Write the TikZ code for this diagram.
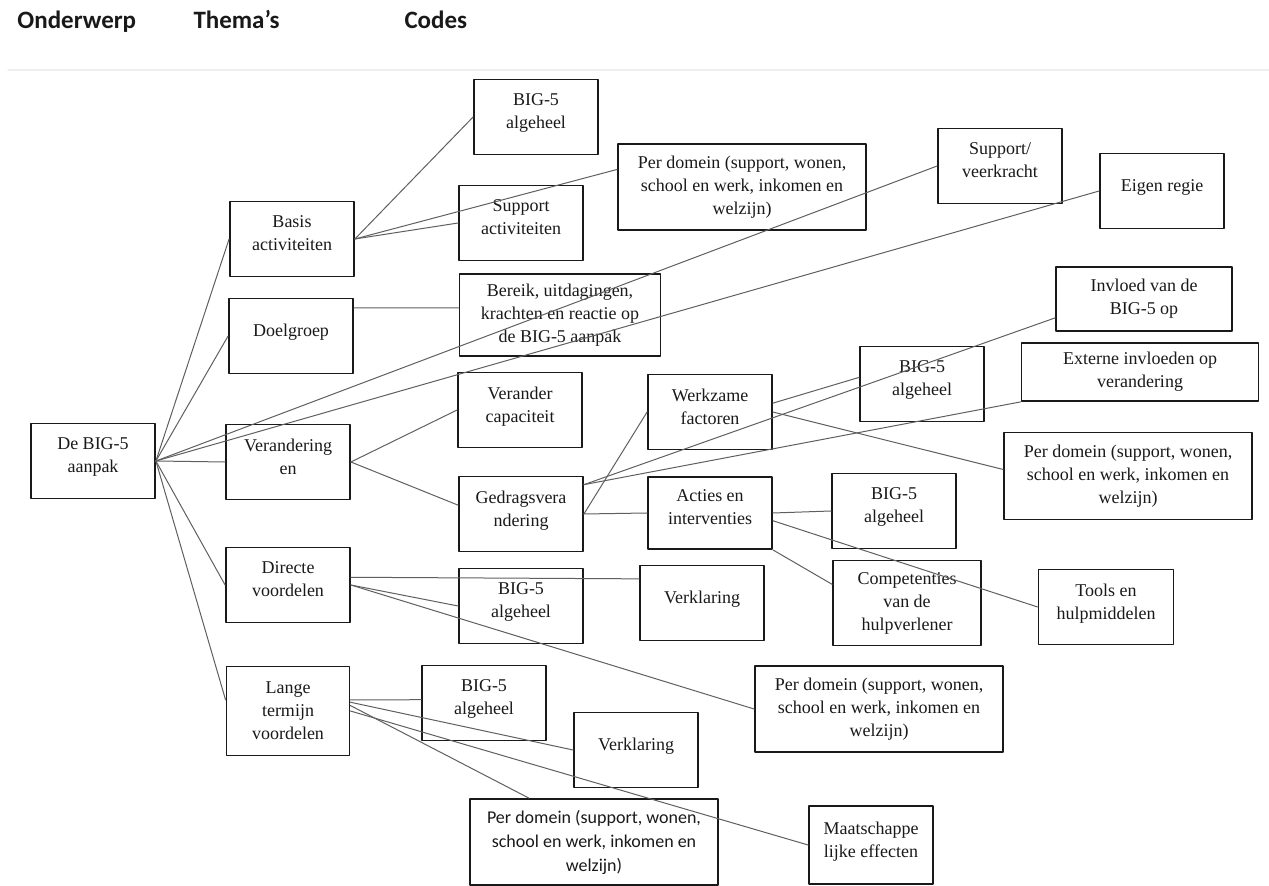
\documentclass[tikz,border=0pt]{standalone}
\usepackage{fontspec}
\setmainfont{Liberation Serif}
\newfontfamily\calibri{Carlito}
\usetikzlibrary{positioning}
\definecolor{fg}{RGB}{25,25,25}
\definecolor{mu}{RGB}{95,95,95}
\definecolor{rule}{RGB}{238,238,238}
\tikzset{
  every picture/.style={fg, line width=0.5pt, line cap=round, line join=round},
  every node/.style={font=\fontsize{9}{11.5}\selectfont},
  % Kopfzeile
  head/.style={anchor=base west, inner sep=0pt, font=\calibri\bfseries\fontsize{12.5}{15}\selectfont},
  % Kästen
  box/.style={draw=fg, line width=0.9pt, align=center, inner sep=1pt,
    minimum width=62pt, minimum height=37.5pt},
  wide/.style={minimum width=124pt, minimum height=43pt},
  % Text etwas nach oben
  lift/.style={text depth=#1},
  lift/.default=5.5pt,
  % Verbindungslinien
  link/.style={mu, line width=0.5pt},
}
\begin{document}
\begin{tikzpicture}[x=0.5pt, y=-0.5pt]
  \useasboundingbox (0,0) rectangle (1269,886);
  % Überschriften
  \node[head] (hOnd) at (17,29) {Onderwerp};
  \node[head] (hThe) at (193,29) {Thema’s};
  \node[head] (hCod) at (404,29) {Codes};
  \draw[rule, line width=0.6pt] (8,70) -- (1269,70);

  % Onderwerp
  \node[box, lift] (root) at (93,461) {De BIG-5\\aanpak};

  % Thema's
  \node[box, lift] (basis) at (292,239) {Basis\\activiteiten};
  \node[box, lift] (doel) at (291,336) {Doelgroep};
  \node[box, lift] (verand) at (288,462) {Verandering\\en};
  \node[box, lift] (direct) at (288,585) {Directe\\voordelen};
  \node[box, minimum width=61.5pt, minimum height=44.5pt] (lange) at (288,711) {Lange\\termijn\\voordelen};

  % Codes
  \node[box, lift] (bigA) at (536,117) {BIG-5\\algeheel};
  \node[box, wide] (domA) at (742,187) {Per domein (support, wonen,\\school en werk, inkomen en\\welzijn)};
  \node[box, lift] (suppA) at (521,223) {Support\\activiteiten};
  \node[box, minimum width=100.5pt, minimum height=41pt] (bereik) at (560,315) {Bereik, uitdagingen,\\krachten en reactie op\\de BIG-5 aanpak};
  \node[box, lift] (veer) at (1000,166) {Support/\\veerkracht};
  \node[box, lift] (regie) at (1162,191) {Eigen regie};
  \node[box, minimum width=88pt, minimum height=32pt] (invloed) at (1144,299) {Invloed van de\\BIG-5 op};
  \node[box, minimum width=118.5pt, minimum height=29pt] (extern) at (1140,372) {Externe invloeden op\\verandering};
  \node[box, lift] (bigB) at (922,384) {BIG-5\\algeheel};
  \node[box, wide, minimum height=43.5pt] (domB) at (1128,476) {Per domein (support, wonen,\\school en werk, inkomen en\\welzijn)};
  \node[box, lift] (capac) at (520,410) {Verander\\capaciteit};
  \node[box, lift] (werk) at (710,412) {Werkzame\\factoren};
  \node[box, lift] (gedrag) at (521,514) {Gedragsvera\\ndering};
  \node[box, lift, minimum height=36pt] (acties) at (710,513) {Acties en\\interventies};
  \node[box, lift] (bigC) at (894,511) {BIG-5\\algeheel};
  \node[box, minimum width=74pt, minimum height=42.5pt] (compet) at (907,603) {Competenties\\van de\\hulpverlener};
  \node[box, lift, minimum width=67.5pt] (tools) at (1106,607) {Tools en\\hulpmiddelen};
  \node[box, lift] (bigD) at (521,606) {BIG-5\\algeheel};
  \node[box, lift] (verkA) at (702,603) {Verklaring};
  \node[box, wide] (domC) at (879,709) {Per domein (support, wonen,\\school en werk, inkomen en\\welzijn)};
  \node[box, lift] (bigE) at (484,703) {BIG-5\\algeheel};
  \node[box, lift] (verkB) at (636,750) {Verklaring};
  \node[box, wide, font=\calibri\fontsize{9}{12}\selectfont] (domD) at (594,842) {Per domein (support, wonen,\\school en werk, inkomen en\\welzijn)};
  \node[box, lift=5pt, minimum height=39pt] (maat) at (871,845) {Maatschappe\\lijke effecten};

  % Verbindungen
  \foreach \t in {basis, doel, verand, direct, veer, regie}
    \draw[link] (root.east) -- (\t.west);
  \draw[link] (root.east) -- (lange.170);
  \foreach \a/\b in {basis.east/bigA.west, basis.east/domA.172, basis.east/suppA.west,
      doel.24/bereik.176, verand.east/capac.west, verand.east/gedrag.172,
      gedrag.east/werk.west, gedrag.25/invloed.192, gedrag.25/extern.south west,
      gedrag.east/acties.west, werk.8/bigB.174, werk.east/domB.177,
      acties.east/bigC.west, acties.-7/tools.west, acties.south east/compet.166,
      direct.7/verkA.159, direct.east/bigD.west, direct.east/domC.west,
      lange.10/bigE.177, lange.8/verkB.west, lange.5/domD.146, lange.east/maat.west}
    \draw[link] (\a) -- (\b);
\end{tikzpicture}
\end{document}
